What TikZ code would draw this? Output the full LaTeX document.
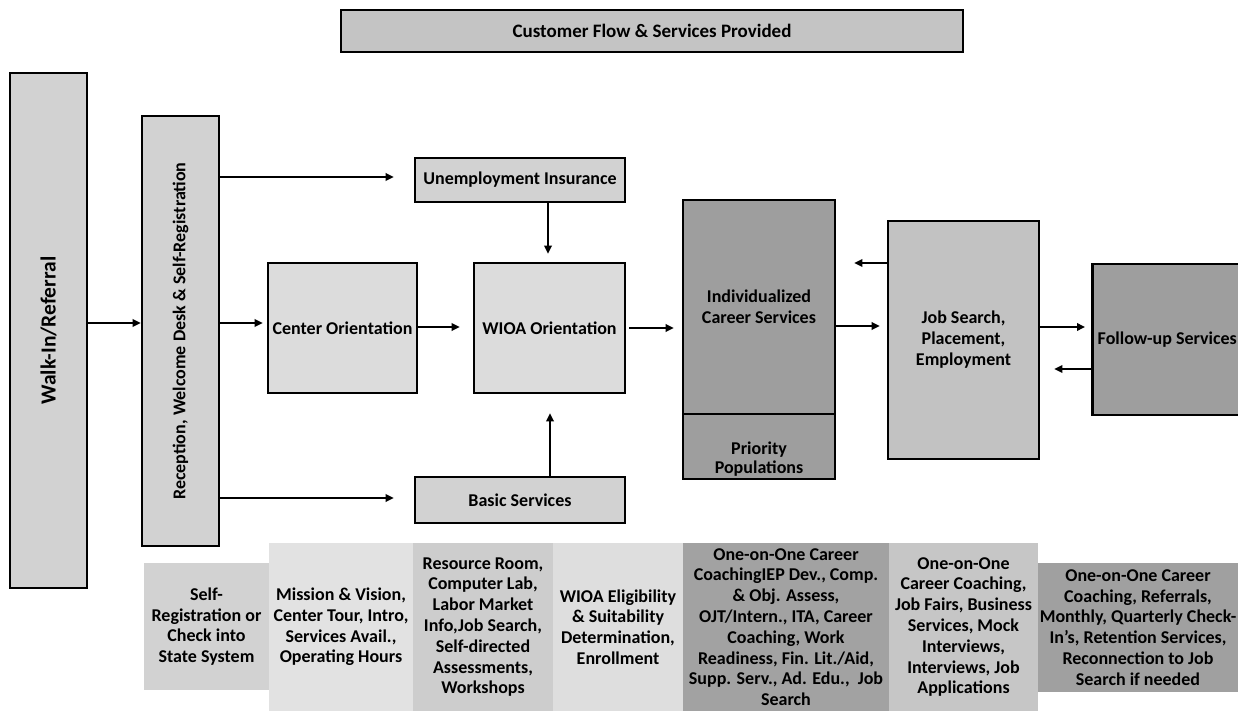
\documentclass[tikz,border=0pt]{standalone}
\usepackage{fontspec}
\setmainfont{Carlito}
\usetikzlibrary{arrows.meta}
\definecolor{cLight}{HTML}{DCDCDC}
\definecolor{cRec}{HTML}{D2D2D2}
\definecolor{cTitle}{HTML}{C4C4C4}
\definecolor{cDark}{HTML}{9E9E9E}
\definecolor{cMid}{HTML}{C2C2C2}
\definecolor{b1}{HTML}{D2D2D2}
\definecolor{b2}{HTML}{E2E2E2}
\definecolor{b3}{HTML}{CDCDCD}
\definecolor{b4}{HTML}{DEDEDE}
\definecolor{b5}{HTML}{A2A2A2}
\definecolor{b6}{HTML}{C6C6C6}
\definecolor{b7}{HTML}{A0A0A0}
\begin{document}
\begin{tikzpicture}[x=1pt,y=-1pt,
  box/.style={draw=black, line width=2.6pt, inner sep=0pt, align=center,
    font=\bfseries\fontsize{18}{21}\selectfont},
  lbl/.style={inner sep=0pt, align=center, font=\bfseries\fontsize{18}{19}\selectfont},
  desc/.style={inner sep=0pt, align=center, font=\bfseries\fontsize{18}{20.8}\selectfont},
  arr/.style={-{Triangle[length=8pt,width=7.5pt]}, line width=1.8pt}]
\useasboundingbox (0,0) rectangle (1238,711);
\fill[white] (0,0) rectangle (1238,711);

% title
\node[box, fill=cTitle, minimum width=622pt, minimum height=42pt,
  font=\bfseries\fontsize{19}{21}\selectfont] (title) at (652,31) {Customer Flow \& Services Provided};

% left column
\node[box, fill=cRec, minimum width=77pt, minimum height=515pt] (walk) at (48.5,330.5) {};
\node[lbl, rotate=90, font=\bfseries\fontsize{21.5}{24}\selectfont] (walkT) at (walk) {Walk-In/Referral};
\node[box, fill=cRec, minimum width=77pt, minimum height=430pt] (rec) at (180.5,331) {};
\node[lbl, rotate=90] (recT) at (rec) {Reception, Welcome Desk \& Self-Registration};

% middle boxes
\node[box, fill=cRec, minimum width=210pt, minimum height=44pt] (ui) at (520,180) {Unemployment Insurance};
\node[box, fill=cLight, minimum width=149pt, minimum height=130pt] (co) at (342.5,328) {Center Orientation};
\node[box, fill=cLight, minimum width=151pt, minimum height=130pt] (wioa) at (549.5,328) {WIOA Orientation};
\node[box, fill=cRec, minimum width=210pt, minimum height=46pt] (basic) at (520,500) {Basic Services};

% right boxes
\node[box, fill=cDark, minimum width=152pt, minimum height=214pt] (ics) at (759,307) {Individualized\\Career Services};
\node[box, fill=cDark, minimum width=152pt, minimum height=65pt] (prio) at (759,446.5) {};
\node[lbl] (prioT) at (759,459) {Priority\\Populations};
\node[box, fill=cMid, minimum width=151pt, minimum height=238pt] (job) at (963.5,340) {Job Search,\\Placement,\\Employment};
\node[box, fill=cDark, minimum width=160pt, minimum height=151pt, anchor=west] (fol) at (1091,339.5) {};
\node[lbl, anchor=east] (folT) at (1237,339.5) {Follow-up Services};

% connectors
\draw[arr] (walk.east |- 0,323) -- (rec.west |- 0,323);
\draw[arr, shorten >=20pt] (rec.east |- 0,177) -- (ui.west |- 0,177);
\draw[arr, shorten >=4pt] (rec.east |- 0,323) -- (co.west |- 0,323);
\draw[arr, shorten >=20pt] (rec.east |- 0,498) -- (basic.west |- 0,498);
\draw[arr, shorten >=8pt] (ui.south -| 548,0) -- (wioa.north -| 548,0);
\draw[arr, shorten >=19pt] (basic.north -| 550,0) -- (wioa.south -| 550,0);
\draw[arr, shorten >=13pt] (co.east |- 0,327) -- (wioa.west |- 0,327);
\draw[arr, shorten <=3pt, shorten >=8pt] (wioa.east |- 0,328) -- (ics.west |- 0,328);
\draw[arr, shorten >=7pt] (ics.east |- 0,326) -- (job.west |- 0,326);
\draw[arr, shorten >=18pt] (job.west |- 0,263) -- (ics.east |- 0,263);
\draw[arr, shorten >=6pt] (job.east |- 0,327) -- (fol.west |- 0,327);
\draw[arr, shorten >=14pt] (fol.west |- 0,369) -- (job.east |- 0,369);

% bottom descriptions
\node[desc, fill=b1, minimum width=125pt, minimum height=127pt] (d1) at (206.5,626.5)
  {Self-\\Registration or\\Check into\\State System};
\node[desc, fill=b2, minimum width=144pt, minimum height=168pt] (d2) at (341,627)
  {Mission \& Vision,\\Center Tour, Intro,\\Services Avail.,\\Operating Hours};
\node[desc, fill=b3, minimum width=140pt, minimum height=168pt] (d3) at (483,627)
  {Resource Room,\\Computer Lab,\\Labor Market\\Info,Job Search,\\Self-directed\\Assessments,\\Workshops};
\node[desc, fill=b4, minimum width=130pt, minimum height=168pt] (d4) at (618,627)
  {WIOA Eligibility\\\& Suitability\\Determination,\\Enrollment};
\node[desc, fill=b5, minimum width=206pt, minimum height=168pt] (d5) at (786,627)
  {One-on-One Career\\CoachingIEP Dev., Comp.\\\& Obj. Assess,\\OJT/Intern., ITA, Career\\Coaching, Work\\Readiness, Fin. Lit./Aid,\\Supp. Serv., Ad. Edu.,\ \ Job\\Search};
\node[desc, fill=b6, minimum width=149pt, minimum height=168pt] (d6) at (963.5,627)
  {One-on-One\\Career Coaching,\\Job Fairs, Business\\Services, Mock\\Interviews,\\Interviews, Job\\Applications};
\node[desc, fill=b7, minimum width=200pt, minimum height=129pt] (d7) at (1138,627.5)
  {One-on-One Career\\Coaching, Referrals,\\Monthly, Quarterly Check-\\In's, Retention Services,\\Reconnection to Job\\Search if needed};
\end{tikzpicture}
\end{document}
